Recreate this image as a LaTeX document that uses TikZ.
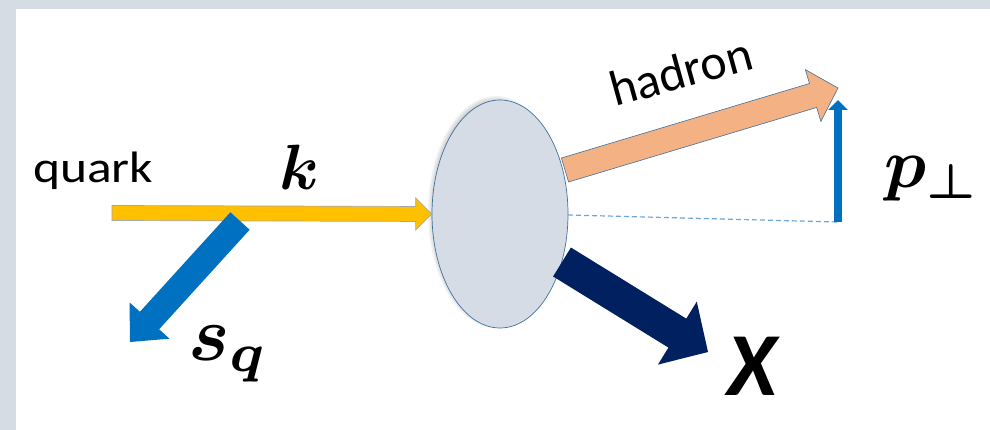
\documentclass[tikz,border=0pt]{standalone}
\usepackage{fontspec}
\setmainfont{Carlito}
\usetikzlibrary{calc,shapes.geometric,arrows.meta}
\definecolor{framecol}{HTML}{D5DCE4}
\definecolor{qyellow}{HTML}{FFC000}
\definecolor{qline}{HTML}{A6A6A6}
\definecolor{spinblue}{HTML}{0070C0}
\definecolor{hadronfill}{HTML}{F4B183}
\definecolor{navycol}{HTML}{002060}
\definecolor{blobfill}{HTML}{D6DCE5}
\definecolor{blobline}{HTML}{41719C}
\definecolor{dashcol}{HTML}{6FA5DA}

% block arrow: from, to, half shaft width, half head width, head length, style
\newcommand\blockarrow[6]{%
  \coordinate (hb) at ($(#2)!#5!(#1)$);
  \path[#6] ($(#1)!#3!90:(#2)$) -- ($(hb)!#3!90:(#2)$) -- ($(hb)!#4!90:(#2)$)
    -- (#2) -- ($(hb)!#4!-90:(#2)$) -- ($(hb)!#3!-90:(#2)$) -- ($(#1)!#3!-90:(#2)$) -- cycle;
}

\tikzset{
  lbl/.style={inner sep=0pt, outer sep=0pt},
  wordlbl/.style={lbl, font=\fontsize{44}{50}\selectfont},
  mathlbl/.style={lbl, font=\boldmath},
  quarkarrow/.style={fill=qyellow, draw=qline, line width=0.7pt},
  spinarrow/.style={fill=spinblue},
  hadronarrow/.style={fill=hadronfill, draw=blobline, line width=0.6pt},
  xarrow/.style={fill=navycol},
  dashline/.style={draw=dashcol, line width=1.2pt, dash pattern=on 5pt off 3pt},
  ptarrow/.style={draw=spinblue, line width=8pt, -{Triangle[length=10pt,width=19pt]}},
  shadowring/.style={fill=black, opacity=0.05},
}

\begin{document}
\begin{tikzpicture}[x=1pt, y=-1pt]
\useasboundingbox (0,0) rectangle (990,430);
\fill[white] (0,0) rectangle (990,430);
\fill[framecol] (0,0) rectangle (990,9);
\fill[framecol] (0,0) rectangle (16,430);

% soft shadow of the blob
\foreach \r in {0,1.5,3,4.5,6}{
  \fill[shadowring] (496,212) ellipse [x radius=62+\r, y radius=110+\r];
}
% blob
\node[ellipse, minimum width=136pt, minimum height=228pt, inner sep=0pt,
      fill=blobfill, draw=blobline, line width=0.7pt] (blob) at (500,214) {};

% coordinates
\coordinate (qtail) at (112,213);
\coordinate (qtip) at (blob.west);
\coordinate (stail) at (240,221);
\coordinate (stip) at (130,342);
\coordinate (htail) at (565,170);
\coordinate (htip) at (838,88);
\coordinate (xtail) at (562,262);
\coordinate (xtip) at (708,352);
\coordinate (dstart) at (568,215);
\coordinate (pbot) at (838,222);
\coordinate (ptip) at (838,100);

% quark arrow
\blockarrow{qtail}{qtip}{7.5pt}{16pt}{16pt}{quarkarrow}
% spin arrow
\blockarrow{stail}{stip}{13pt}{27pt}{29pt}{spinarrow}
% hadron arrow
\blockarrow{htail}{htip}{12.5pt}{27pt}{26pt}{hadronarrow}
% X arrow
\blockarrow{xtail}{xtip}{17pt}{37pt}{36pt}{xarrow}

% dashed line and p_perp arrow
\draw[dashline] (dstart) -- (pbot);
\draw[ptarrow] (pbot) -- (ptip);

% labels
\node[wordlbl, anchor=base west, xscale=1.17] (quarklbl) at (33,183) {quark};
\node[wordlbl, anchor=base west, rotate=15.4, font=\fontsize{50}{54}\selectfont] (hadronlbl) at (615,107) {hadron};
\node[mathlbl, anchor=base, scale=6.4] (klbl) at (299,190) {$k$};
\node[mathlbl, anchor=base west, scale=7.8] (sqlbl) at (188,360) {$s_q$};
\node[mathlbl, anchor=base west, scale=7.0] (plbl) at (884,188) {$p_{\perp}$};
\node[lbl, anchor=base west, font=\fontsize{90}{92}\selectfont\bfseries\itshape] (xlbl) at (727,395) {X};
\end{tikzpicture}
\end{document}
